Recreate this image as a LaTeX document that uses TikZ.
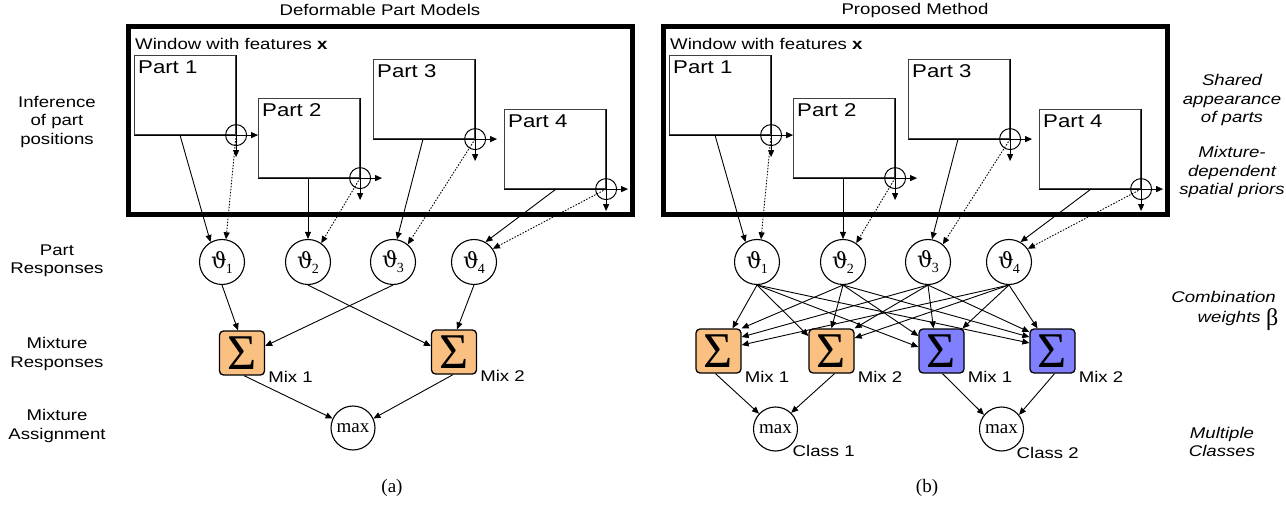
\documentclass[tikz,border=0pt]{standalone}
\usepackage[no-math]{fontspec}
\setmainfont{Liberation Sans}[FakeStretch=1.2]
\newfontfamily\timesf{Liberation Serif}
\newfontfamily\djserif{DejaVu Serif}
\usetikzlibrary{arrows.meta,calc}
\definecolor{orangefill}{RGB}{250,192,130}
\definecolor{bluefill}{RGB}{128,128,255}
\newcommand\thsym[1]{{\djserif\fontsize{22}{22}\selectfont ϑ}\kern-1pt\raisebox{-5pt}{\timesf\fontsize{14}{14}\selectfont #1}}
\tikzset{
  lbl/.style={font=\fontsize{15.5}{18.5}\selectfont, align=center, inner sep=0},
  ilbl/.style={font=\fontsize{15.5}{18.5}\selectfont\itshape, align=center, inner sep=0},
  ptxt/.style={font=\fontsize{18.5}{20}\selectfont, inner sep=0},
  winframe/.style={draw, line width=5pt, minimum width=504pt, minimum height=188pt, inner sep=0},
  partbox/.style={draw=black!75, line width=1.1pt, minimum width=101pt, minimum height=79pt, anchor=north west, inner sep=0},
  oplus/.style={draw, circle, line width=1pt, minimum size=21pt, inner sep=0},
  theta/.style={draw, circle, line width=1.1pt, minimum size=45pt, inner sep=0},
  sig/.style={draw, line width=1.3pt, rounded corners=4pt, minimum width=45pt, minimum height=44pt, inner sep=0, font=\timesf\fontsize{50}{50}\selectfont},
  maxn/.style={draw, circle, line width=1.1pt, minimum size=44pt, inner sep=0, font=\timesf\fontsize{19}{19}\selectfont},
  arr/.style={-{Triangle[length=7pt,width=6pt]}, line width=0.9pt},
  darr/.style={arr, dash pattern=on 1.5pt off 1.5pt},
}
\newcommand\winpanel[2]{%
\begin{scope}[xshift=#2]
\node[winframe] (#1win) at (380,121) {};
\node[lbl, anchor=west] (#1wt) at (135,44) {Window with features \textbf{x}};
\foreach \i/\x/\y in {1/134/55, 2/258/98, 3/373/59, 4/504/109}{
  \node[partbox] (#1p\i) at (\x,\y) {};
  \node[ptxt, anchor=base west] (#1pl\i) at ($(#1p\i.north west)+(4,19)$) {Part \i};
  \node[oplus] (#1o\i) at (#1p\i.south east) {};
  \draw[arr] (#1p\i.south west) -- ($(#1p\i.south east)+(22,0)$);
  \draw[arr] (#1p\i.north east) -- ($(#1p\i.south east)+(0,22)$);
}
\foreach \i/\x in {1/222,2/308,3/393,4/474}{
  \node[theta] (#1t\i) at (\x,262) {\thsym{\i}};
}
\draw[arr] ($(#1p1.south west)+(46,0)$) -- (#1t1.120);
\draw[darr] (#1o1.center) -- (#1t1.80);
\draw[arr] ($(#1p2.south west)+(50,0)$) -- (#1t2.north);
\draw[darr] (#1o2.center) -- (#1t2.55);
\draw[arr] ($(#1p3.south west)+(50,0)$) -- (#1t3.80);
\draw[darr] (#1o3.center) -- (#1t3.50);
\draw[arr] ($(#1p4.south west)+(52,0)$) -- (#1t4.60);
\draw[darr] (#1o4.center) -- (#1t4.35);
\end{scope}}
\begin{document}
\begin{tikzpicture}[x=1pt,y=-1pt]
\path[use as bounding box, fill=white] (0,0) rectangle (1286,505);
% titles
\node[lbl] (ttlA) at (380,10) {Deformable Part Models};
\node[lbl] (ttlB) at (915,10) {Proposed Method};
% left row labels
\node[lbl] (lab1) at (57,122) {Inference\\of part\\positions};
\node[lbl] (lab2) at (57,261) {Part\\Responses};
\node[lbl] (lab3) at (57,354) {Mixture\\Responses};
\node[lbl] (lab4) at (57,426) {Mixture\\Assignment};
% right row labels
\node[ilbl] (rlab1) at (1232,100) {Shared\\appearance\\of parts};
\node[ilbl] (rlab2) at (1232,172) {Mixture-\\dependent\\spatial priors};
\node[ilbl, anchor=east] (rlab3a) at (1276,297) {Combination};
\node[ilbl, anchor=base east] (rlab3b) at (1261,323) {weights};
\node[font=\timesf\fontsize{24}{24}\selectfont, inner sep=0, anchor=base west] (rlab3c) at (1266,325) {β};
\node[ilbl] (rlab4) at (1222,442) {Multiple\\Classes};
% panels
\winpanel{L}{0pt}
\winpanel{R}{535pt}
% ---- left lower part
\node[sig, fill=orangefill] (LM1) at (242,353) {Σ};
\node[sig, fill=orangefill] (LM2) at (454,352) {Σ};
\node[lbl, anchor=west] (LML1) at ($(LM1.south east)+(3,1)$) {Mix 1};
\node[lbl, anchor=west] (LML2) at ($(LM2.south east)+(3,1)$) {Mix 2};
\node[maxn] (Lmax) at (353,428) {max};
\draw[arr] (Lt1.south) -- ($(LM1.north)+(-4,0)$);
\draw[arr] (Lt3.south) -- ($(LM1.east)+(0,-7)$);
\draw[arr] (Lt2.south) -- ($(LM2.west)+(0,-6)$);
\draw[arr] (Lt4.south) -- ($(LM2.north)+(3,0)$);
\draw[arr] ($(LM1.south)+(2,0)$) -- (Lmax.155);
\draw[arr] ($(LM2.south)+(-1,0)$) -- (Lmax.25);
% ---- right lower part
\node[sig, fill=orangefill] (RM1) at (718.5,351) {Σ};
\node[sig, fill=orangefill] (RM2) at (831.5,351) {Σ};
\node[sig, fill=bluefill] (RM3) at (941.5,351) {Σ};
\node[sig, fill=bluefill] (RM4) at (1052.5,351) {Σ};
\node[lbl, anchor=west] (RML1) at ($(RM1.south east)+(3,3)$) {Mix 1};
\node[lbl, anchor=west] (RML2) at ($(RM2.south east)+(3,3)$) {Mix 2};
\node[lbl, anchor=west] (RML3) at ($(RM3.south east)+(3,3)$) {Mix 1};
\node[lbl, anchor=west] (RML4) at ($(RM4.south east)+(3,3)$) {Mix 2};
\node[maxn] (Rmax1) at (775.5,429) {max};
\node[maxn] (Rmax2) at (1001.5,429) {max};
\node[lbl, anchor=west] (RC1) at ($(Rmax1.center)+(17,22)$) {Class 1};
\node[lbl, anchor=west] (RC2) at ($(Rmax2.center)+(15,24)$) {Class 2};
\draw[arr] (Rt1.south) -- ($(RM1.north)+(14,0)$);
\draw[arr] (Rt1.south) -- ($(RM2.west)+(0,-15)$);
\draw[arr] (Rt1.south) -- ($(RM3.west)+(0,-4)$);
\draw[arr] (Rt1.south) -- ($(RM4.west)+(0,-8)$);
\draw[arr] (Rt2.south) -- (RM1.north east);
\draw[arr] (Rt2.south) -- (RM2.north);
\draw[arr] (Rt2.south) -- ($(RM3.west)+(0,-15)$);
\draw[arr] (Rt2.south) -- ($(RM4.west)+(0,-14)$);
\draw[arr] (Rt3.south) -- ($(RM1.east)+(0,-14)$);
\draw[arr] (Rt3.south) -- (RM2.north east);
\draw[arr] (Rt3.south) -- ($(RM3.north)+(-8,0)$);
\draw[arr] (Rt3.south) -- ($(RM4.west)+(0,-19)$);
\draw[arr] (Rt4.south) -- ($(RM1.east)+(0,-6)$);
\draw[arr] (Rt4.south) -- ($(RM2.east)+(0,-13)$);
\draw[arr] (Rt4.south) -- ($(RM3.north)+(21,0)$);
\draw[arr] (Rt4.south) -- ($(RM4.north)+(-15,0)$);
\draw[arr] ($(RM1.south)+(-3,0)$) -- (Rmax1.137);
\draw[arr] ($(RM2.south)+(3,0)$) -- (Rmax1.46);
\draw[arr] ($(RM3.south)+(1,0)$) -- (Rmax2.141);
\draw[arr] ($(RM4.south)+(2,0)$) -- (Rmax2.39);
% captions
\node[font=\timesf\fontsize{19}{19}\selectfont, inner sep=0] (capA) at (392,488) {(a)};
\node[font=\timesf\fontsize{19}{19}\selectfont, inner sep=0] (capB) at (927,488) {(b)};
\end{tikzpicture}
\end{document}
